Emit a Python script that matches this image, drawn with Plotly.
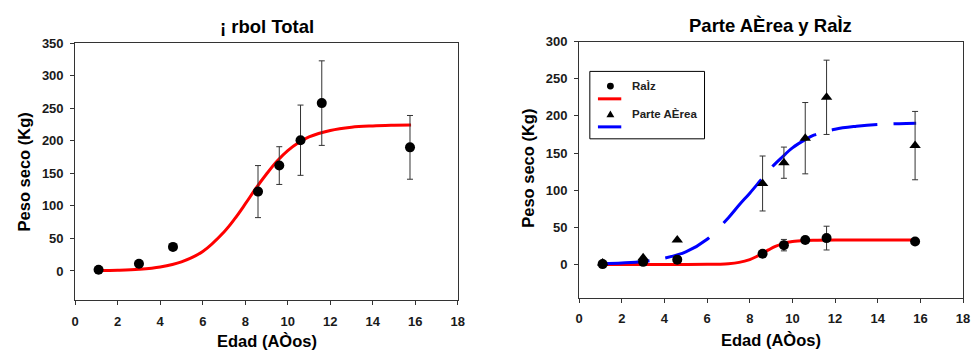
import plotly.graph_objects as go

FONT = "Liberation Sans, Arial, sans-serif"

# ---------------- Data ----------------
edad = [1.1, 3.0, 4.6, 8.6, 9.6, 10.6, 11.6, 15.75]

# Left panel: whole tree
total_peso = [2, 11, 37, 122, 162, 201, 258, 190]
total_err = [0, 0, 0, 40, 29, 54, 65, 49]
total_fit_x = [1.1, 2, 3, 4, 5, 6, 7, 7.5, 8, 8.5, 9, 9.5, 10, 10.5, 11, 12, 13, 14, 15, 15.8]
total_fit_y = [0.6, 1.2, 2.7, 6.2, 14, 30, 60, 80, 103, 127, 149, 169, 185, 197, 206, 216, 221, 223, 224, 224.5]

# Right panel: root (Raíz) and aerial part
raiz_peso = [0.5, 3.5, 6.5, 14.5, 26, 33, 35.5, 31]
raiz_err = [0, 0, 0, 2, 7.7, 4, 16, 2.5]
aerea_peso = [2, 9, 33, 109, 137, 170, 225, 160]
aerea_err = [0, 0, 0, 37, 21, 48, 50, 46]

raiz_fit_x = [1.1, 4, 6, 7, 7.5, 8, 8.3, 8.6, 8.9, 9.2, 9.6, 10, 10.6, 11, 12, 15.8]
raiz_fit_y = [0, 0.03, 0.15, 1.1, 2.8, 6.6, 10.4, 15, 19.9, 24.3, 28.4, 30.8, 32.3, 32.7, 32.95, 33]
aerea_fit_x = [1.1, 2, 3, 4, 5, 6, 7, 7.5, 8, 8.5, 9, 9.5, 10, 10.6, 11, 12, 13, 14, 15, 15.8]
aerea_fit_y = [1, 2, 4, 8.5, 17, 34, 63, 80, 96, 113, 130, 144, 157, 168, 174, 182, 186, 188.5, 189.5, 190]

x_ticks = [0, 2, 4, 6, 8, 10, 12, 14, 16, 18]

title_left = "¡ rbol Total"
title_right = "Parte AÈrea y RaÌz"
x_title = "Edad (AÒos)"
y_title = "Peso seco (Kg)"
name_raiz = "RaÌz"
name_aerea = "Parte AÈrea"

W, H = 977, 352


def px(x):
    return x / W


def py(y):
    return 1 - y / H


fig = go.Figure()

err_style = dict(type="data", visible=True, color="#333333", thickness=1, width=3)

# Left panel
fig.add_trace(go.Scatter(x=total_fit_x, y=total_fit_y, mode="lines",
                         line=dict(color="#ff0000", width=3, shape="spline"),
                         xaxis="x", yaxis="y", showlegend=False, hoverinfo="skip"))
fig.add_trace(go.Scatter(x=edad, y=total_peso, mode="markers",
                         marker=dict(symbol="circle", size=10, color="black"),
                         error_y=dict(array=total_err, **err_style),
                         xaxis="x", yaxis="y", showlegend=False))

# Right panel
fig.add_trace(go.Scatter(x=raiz_fit_x, y=raiz_fit_y, mode="lines", name=" ",
                         line=dict(color="#ff0000", width=3, shape="spline"),
                         xaxis="x2", yaxis="y2", showlegend=False))
fig.add_trace(go.Scatter(x=aerea_fit_x, y=aerea_fit_y, mode="lines", name="  ",
                         line=dict(color="#0000ff", width=3, shape="spline",
                                   dash="47px,16px,49px,20px,58px,17px,55px,16px,46px,16px"),
                         xaxis="x2", yaxis="y2", showlegend=False))
fig.add_trace(go.Scatter(x=edad, y=raiz_peso, mode="markers", name=name_raiz,
                         marker=dict(symbol="circle", size=10, color="black"),
                         error_y=dict(array=raiz_err, **err_style),
                         xaxis="x2", yaxis="y2", showlegend=False))
fig.add_trace(go.Scatter(x=edad, y=aerea_peso, mode="markers", name=name_aerea,
                         marker=dict(symbol="triangle-up", size=10, color="black"),
                         error_y=dict(array=aerea_err, **err_style),
                         xaxis="x2", yaxis="y2", showlegend=False))

tickfont = dict(family=FONT, size=13, color="#1a1a1a", weight="bold")
axis_common = dict(showgrid=False, zeroline=False, showline=True, linecolor="#333333", linewidth=1,
                   mirror=True, ticks="outside", ticklen=4, tickcolor="#333333", tickfont=tickfont)

fig.update_layout(
    width=W, height=H,
    margin=dict(l=0, r=0, t=0, b=0),
    paper_bgcolor="white", plot_bgcolor="white",
    xaxis=dict(domain=[px(72), px(459)], range=[0, 18], tickvals=x_ticks, anchor="y",
               ticklabelstandoff=5, **axis_common),
    yaxis=dict(domain=[py(299.2), py(37)], range=[-45, 350], tick0=0, dtick=50, anchor="x",
               ticklabelstandoff=4, **axis_common),
    xaxis2=dict(domain=[px(581.7), px(970)], range=[0, 18], tickvals=x_ticks, anchor="y2",
                ticklabelstandoff=5, **axis_common),
    yaxis2=dict(domain=[py(296.8), py(35.3)], range=[-45, 300], tick0=0, dtick=50, anchor="x2",
                ticklabelstandoff=4, **axis_common),
    showlegend=False,
)

title_font = dict(family=FONT, size=18.5, color="black", weight="bold")
label_font = dict(family=FONT, size=16.5, color="black", weight="bold")
ann = [
    dict(text=title_left, x=px(265.5), y=py(19.5), font=title_font),
    dict(text=title_right, x=px(775.5), y=py(19), font=title_font),
    dict(text=x_title, x=px(265.5), y=py(341), font=label_font),
    dict(text=x_title, x=px(775.5), y=py(340), font=label_font),
    dict(text=y_title, x=px(20), y=py(168), textangle=-90, font=label_font),
    dict(text=y_title, x=px(530), y=py(165), textangle=-90, font=label_font),
]
for a in ann:
    fig.add_annotation(xref="paper", yref="paper", xanchor="center", yanchor="middle",
                       showarrow=False, **a)

# ---- Legend box (drawn manually to match the compact original) ----
shapes = [
    dict(type="rect", x0=px(592.5), x1=px(708.5), y0=py(134.5), y1=py(65.7),
         line=dict(color="black", width=1), fillcolor="white"),
    dict(type="circle", x0=px(609.8), x1=px(616.8), y0=py(84.2), y1=py(77.2),
         line=dict(color="black", width=0), fillcolor="black"),
    dict(type="line", x0=px(600.7), x1=px(624.3), y0=py(93.7), y1=py(93.7),
         line=dict(color="#ff0000", width=3)),
    dict(type="path",
         path=f"M {px(609.3)},{py(112.6)} L {px(617.3)},{py(112.6)} L {px(613.3)},{py(105.6)} Z",
         line=dict(color="black", width=0), fillcolor="black"),
    dict(type="line", x0=px(600.7), x1=px(624.3), y0=py(122.3), y1=py(122.3),
         line=dict(color="#0000ff", width=3)),
]
for s in shapes:
    fig.add_shape(xref="paper", yref="paper", layer="above", **s)

leg_font = dict(family=FONT, size=11.5, color="#222222", weight="bold")
fig.add_annotation(xref="paper", yref="paper", x=px(633.5), y=py(80.7), text=name_raiz,
                   xanchor="left", yanchor="middle", showarrow=False, font=leg_font)
fig.add_annotation(xref="paper", yref="paper", x=px(633.5), y=py(109.3), text=name_aerea,
                   xanchor="left", yanchor="middle", showarrow=False, font=leg_font)

fig.write_html("out.html")
